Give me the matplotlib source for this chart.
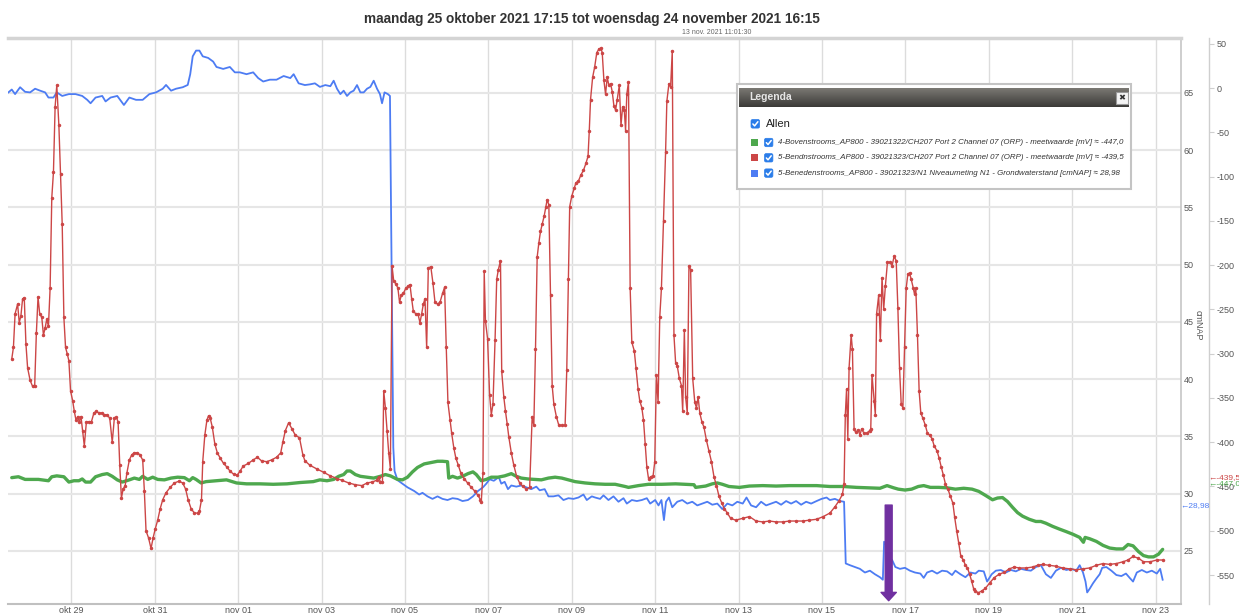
import numpy as np
import matplotlib
matplotlib.use("Agg")
import matplotlib.pyplot as plt
import matplotlib.transforms as mtransforms
from matplotlib.patches import Rectangle, FancyBboxPatch

plt.rcParams['font.family'] = ['Liberation Sans', 'DejaVu Sans']
plt.rcParams['axes.unicode_minus'] = False

# x axis: days after "okt 29" (labels copied as shown on the chart)
tick_days = list(range(0, 27, 2))
tick_labels = ["okt 29", "okt 31", "nov 01", "nov 03", "nov 05", "nov 07", "nov 09",
               "nov 11", "nov 13", "nov 15", "nov 17", "nov 19", "nov 21", "nov 23"]
cm_ticks = list(range(25, 70, 5))
mv_ticks = list(range(-550, 51, 50))

# 5-Benedenstrooms grondwaterstand [cmNAP]
blue_pts = [
    (-1.51, 65.05), (-1.43, 65.3), (-1.35, 64.9), (-1.23, 65.5), (-1.11, 65.1), (-0.99, 65.05),
    (-0.87, 65.37), (-0.75, 65.2), (-0.63, 65.05), (-0.55, 64.6), (-0.43, 64.6), (-0.35, 65.05),
    (-0.22, 64.74), (-0.06, 64.9), (0.10, 64.9), (0.26, 64.74), (0.38, 64.4), (0.46, 64.1),
    (0.58, 64.6), (0.74, 64.74), (0.82, 64.26), (0.94, 64.6), (1.10, 64.74), (1.26, 63.95),
    (1.39, 64.6), (1.55, 64.4), (1.71, 64.4), (1.87, 64.9), (2.03, 65.05), (2.19, 65.37),
    (2.27, 65.7), (2.39, 65.2), (2.51, 65.37), (2.67, 65.5), (2.79, 65.7), (2.85, 66.64),
    (2.91, 68.2), (2.99, 68.7), (3.07, 68.7), (3.15, 68.2), (3.28, 68.06), (3.40, 67.74),
    (3.48, 67.27), (3.64, 67.1), (3.80, 67.27), (3.92, 66.8), (4.04, 66.8), (4.20, 66.64),
    (4.36, 66.8), (4.48, 66.3), (4.60, 66.0), (4.76, 66.16), (4.92, 66.16), (5.09, 66.48),
    (5.25, 66.3), (5.33, 66.64), (5.45, 65.84), (5.60, 65.69), (5.72, 65.75), (5.84, 65.84),
    (5.96, 65.53), (6.09, 65.69), (6.21, 65.59), (6.29, 66.07), (6.37, 65.37), (6.45, 64.9),
    (6.53, 65.2), (6.61, 64.74), (6.69, 65.05), (6.77, 65.2), (6.85, 65.69), (6.93, 65.05),
    (7.01, 65.05), (7.09, 65.37), (7.17, 65.53), (7.25, 66.07), (7.33, 65.37), (7.40, 64.9),
    (7.45, 64.1), (7.51, 65.05), (7.59, 64.9), (7.64, 64.74), (7.72, 34.04), (7.75, 31.98),
    (7.82, 31.19), (7.94, 30.88), (8.06, 30.56), (8.22, 30.24), (8.34, 29.93), (8.42, 30.08),
    (8.54, 29.77), (8.66, 29.55), (8.78, 29.77), (8.90, 29.55), (9.02, 29.45), (9.14, 29.61),
    (9.26, 29.55), (9.38, 29.36), (9.51, 29.45), (9.63, 29.77), (9.75, 30.24), (9.87, 30.56),
    (9.95, 30.88), (10.03, 31.26), (10.13, 31.13), (10.25, 31.45), (10.31, 30.88), (10.39, 31.04),
    (10.47, 30.4), (10.55, 30.72), (10.67, 30.62), (10.79, 30.72), (10.91, 30.56), (11.03, 30.4),
    (11.15, 30.62), (11.23, 30.3), (11.35, 30.4), (11.44, 29.77), (11.56, 29.77), (11.68, 29.86),
    (11.80, 29.45), (11.92, 29.61), (12.04, 29.55), (12.16, 29.67), (12.28, 29.93), (12.36, 29.45),
    (12.48, 29.77), (12.56, 29.67), (12.68, 29.55), (12.76, 29.86), (12.88, 29.45), (13.00, 29.77),
    (13.12, 29.3), (13.24, 29.61), (13.32, 29.14), (13.44, 29.45), (13.56, 29.36), (13.68, 29.45),
    (13.80, 29.61), (13.88, 29.14), (14.00, 29.45), (14.08, 28.98), (14.15, 29.45), (14.21, 27.7),
    (14.26, 29.3), (14.33, 29.67), (14.41, 28.82), (14.53, 29.3), (14.65, 29.45), (14.77, 29.14),
    (14.89, 29.3), (15.01, 28.98), (15.13, 29.14), (15.25, 29.3), (15.37, 29.04), (15.49, 29.14),
    (15.61, 28.66), (15.73, 29.14), (15.85, 28.98), (15.97, 29.3), (16.10, 29.14), (16.19, 29.67),
    (16.30, 28.98), (16.42, 28.82), (16.54, 29.3), (16.66, 28.98), (16.78, 29.14), (16.90, 29.3),
    (17.02, 29.04), (17.14, 29.36), (17.26, 29.14), (17.38, 29.36), (17.50, 29.04), (17.62, 29.3),
    (17.74, 29.14), (17.87, 29.36), (17.99, 29.55), (18.11, 29.67), (18.19, 29.45), (18.31, 29.55),
    (18.43, 29.36), (18.53, 29.3), (18.57, 23.91), (18.67, 23.76), (18.79, 23.6), (18.91, 23.44),
    (19.03, 23.12), (19.15, 23.28), (19.27, 22.97), (19.39, 22.71), (19.46, 22.49), (19.49, 25.81),
    (19.54, 25.5), (19.60, 24.39), (19.68, 24.23), (19.76, 23.6), (19.87, 23.44), (19.99, 23.53),
    (20.11, 23.28), (20.23, 23.12), (20.36, 23.03), (20.44, 22.65), (20.52, 23.12), (20.64, 23.28),
    (20.76, 23.03), (20.88, 23.28), (21.00, 23.22), (21.12, 22.9), (21.20, 23.28), (21.32, 22.97),
    (21.44, 22.71), (21.56, 23.12), (21.68, 23.03), (21.76, 23.28), (21.88, 23.22), (21.96, 22.33),
    (22.07, 22.97), (22.17, 23.28), (22.29, 23.34), (22.41, 23.12), (22.53, 23.34), (22.65, 23.22),
    (22.77, 23.44), (22.89, 23.34), (23.01, 23.28), (23.13, 23.6), (23.25, 23.76), (23.37, 22.97),
    (23.49, 22.65), (23.61, 23.28), (23.73, 23.53), (23.86, 23.34), (23.98, 23.44), (24.10, 23.28),
    (24.18, 23.76), (24.26, 23.12), (24.32, 22.33), (24.36, 21.38), (24.42, 21.7), (24.50, 22.18),
    (24.58, 22.59), (24.66, 22.97), (24.72, 23.53), (24.82, 23.6), (24.94, 23.28), (25.06, 22.9),
    (25.18, 22.81), (25.29, 23.03), (25.38, 22.65), (25.46, 22.33), (25.55, 23.12), (25.67, 23.34),
    (25.79, 23.12), (25.91, 23.28), (26.03, 23.03), (26.11, 23.44), (26.17, 22.49),
]

# 5-Bendnstrooms ORP [mV]
red_pts = [
    (-1.43, -306), (-1.39, -293), (-1.35, -255), (-1.29, -244), (-1.25, -265), (-1.21, -257),
    (-1.17, -238), (-1.13, -237), (-1.09, -289), (-1.05, -316), (-0.99, -330), (-0.93, -337),
    (-0.88, -336), (-0.84, -277), (-0.80, -236), (-0.76, -255), (-0.71, -259), (-0.67, -279),
    (-0.63, -271), (-0.59, -261), (-0.55, -269), (-0.51, -226), (-0.47, -124), (-0.43, -95),
    (-0.39, -21), (-0.35, 3), (-0.30, -42), (-0.26, -97), (-0.22, -154), (-0.18, -259),
    (-0.14, -293), (-0.10, -300), (-0.06, -308), (-0.02, -342), (0.03, -353), (0.07, -365),
    (0.11, -375), (0.15, -371), (0.19, -377), (0.23, -371), (0.27, -387), (0.31, -404),
    (0.36, -377), (0.42, -377), (0.48, -377), (0.54, -367), (0.60, -365), (0.66, -367),
    (0.73, -367), (0.79, -369), (0.86, -369), (0.92, -373), (0.98, -400), (1.03, -373),
    (1.08, -372), (1.12, -377), (1.16, -426), (1.20, -463), (1.24, -453), (1.29, -449),
    (1.33, -435), (1.39, -420), (1.45, -414), (1.51, -412), (1.58, -412), (1.64, -414),
    (1.71, -420), (1.75, -455), (1.79, -500), (1.85, -508), (1.91, -520), (1.96, -508),
    (2.01, -498), (2.07, -488), (2.13, -475), (2.19, -465), (2.27, -457), (2.37, -451),
    (2.47, -446), (2.58, -444), (2.67, -446), (2.74, -453), (2.80, -465), (2.87, -475),
    (2.95, -480), (3.03, -480), (3.07, -478), (3.12, -465), (3.15, -422), (3.20, -392),
    (3.25, -375), (3.29, -370), (3.33, -373), (3.38, -383), (3.44, -402), (3.50, -412),
    (3.57, -418), (3.65, -424), (3.73, -428), (3.81, -433), (3.89, -436), (3.98, -437),
    (4.04, -433), (4.12, -427), (4.24, -424), (4.36, -420), (4.46, -417), (4.56, -421),
    (4.68, -422), (4.80, -420), (4.92, -417), (5.02, -412), (5.07, -400), (5.13, -387),
    (5.21, -378), (5.29, -385), (5.37, -392), (5.47, -395), (5.55, -414), (5.60, -421),
    (5.72, -426), (5.88, -430), (6.05, -434), (6.21, -438), (6.37, -441), (6.49, -443),
    (6.65, -446), (6.81, -448), (6.97, -449), (7.09, -446), (7.21, -445), (7.32, -443),
    (7.37, -439), (7.41, -445), (7.46, -445), (7.49, -342), (7.53, -361), (7.57, -387),
    (7.61, -412), (7.65, -430), (7.69, -201), (7.73, -218), (7.78, -221), (7.83, -226),
    (7.87, -242), (7.91, -234), (7.96, -232), (8.02, -226), (8.07, -224), (8.12, -222),
    (8.16, -238), (8.20, -252), (8.26, -255), (8.31, -255), (8.36, -265), (8.40, -255),
    (8.44, -244), (8.48, -238), (8.52, -293), (8.56, -203), (8.62, -202), (8.67, -220),
    (8.72, -242), (8.78, -244), (8.84, -242), (8.90, -232), (8.95, -225), (8.99, -293),
    (9.03, -355), (9.08, -375), (9.12, -390), (9.17, -406), (9.22, -418), (9.28, -426),
    (9.34, -435), (9.42, -441), (9.50, -446), (9.59, -451), (9.67, -455), (9.75, -460),
    (9.81, -465), (9.83, -467), (9.87, -435), (9.90, -207), (9.93, -263), (9.98, -283),
    (10.03, -347), (10.07, -369), (10.11, -357), (10.16, -285), (10.20, -216), (10.24, -205),
    (10.29, -195), (10.32, -320), (10.37, -349), (10.41, -365), (10.45, -379), (10.49, -394),
    (10.55, -412), (10.61, -426), (10.68, -439), (10.75, -446), (10.83, -450), (10.91, -453),
    (10.99, -451), (11.05, -371), (11.09, -381), (11.13, -295), (11.17, -191), (11.21, -175),
    (11.25, -162), (11.29, -154), (11.34, -144), (11.38, -134), (11.41, -126), (11.45, -132),
    (11.49, -234), (11.53, -336), (11.57, -357), (11.63, -371), (11.69, -381), (11.76, -381),
    (11.84, -381), (11.88, -318), (11.92, -216), (11.95, -134), (12.00, -122), (12.06, -113),
    (12.10, -107), (12.16, -105), (12.22, -98), (12.28, -93), (12.34, -85), (12.39, -77),
    (12.42, -48), (12.45, -13), (12.50, 12), (12.55, 24), (12.60, 40), (12.65, 44),
    (12.70, 45), (12.73, 40), (12.77, 9), (12.81, -7), (12.85, 12), (12.89, 3),
    (12.93, 5), (12.97, -4), (13.01, -20), (13.05, -25), (13.09, -13), (13.14, 3),
    (13.18, -42), (13.22, -21), (13.26, -25), (13.29, -48), (13.32, -7), (13.36, 7),
    (13.40, -226), (13.44, -287), (13.50, -297), (13.54, -316), (13.59, -340), (13.63, -353),
    (13.68, -361), (13.72, -375), (13.76, -402), (13.80, -428), (13.84, -441), (13.89, -439),
    (13.95, -438), (13.99, -422), (14.03, -324), (14.07, -355), (14.11, -259), (14.15, -226),
    (14.20, -150), (14.25, -72), (14.28, -15), (14.33, 5), (14.37, 1), (14.41, 42),
    (14.45, -279), (14.49, -310), (14.53, -314), (14.58, -328), (14.63, -336), (14.66, -365),
    (14.70, -273), (14.73, -349), (14.77, -367), (14.81, -201), (14.85, -205), (14.90, -328),
    (14.95, -355), (14.99, -361), (15.03, -349), (15.07, -367), (15.12, -377), (15.17, -383),
    (15.23, -398), (15.29, -410), (15.35, -422), (15.41, -439), (15.47, -449), (15.53, -461),
    (15.60, -469), (15.66, -475), (15.73, -480), (15.81, -486), (15.93, -488), (16.10, -486),
    (16.26, -484), (16.42, -489), (16.58, -490), (16.74, -489), (16.90, -490), (17.06, -490),
    (17.22, -489), (17.38, -489), (17.54, -489), (17.70, -488), (17.87, -487), (18.03, -484),
    (18.19, -480), (18.31, -473), (18.41, -466), (18.49, -459), (18.53, -447), (18.56, -369),
    (18.59, -340), (18.62, -396), (18.65, -316), (18.70, -279), (18.73, -295), (18.77, -385),
    (18.81, -389), (18.87, -386), (18.91, -392), (18.95, -385), (19.01, -390), (19.07, -390),
    (19.14, -387), (19.17, -385), (19.20, -324), (19.25, -353), (19.28, -369), (19.31, -255),
    (19.36, -234), (19.40, -285), (19.44, -214), (19.48, -250), (19.52, -224), (19.57, -197),
    (19.64, -197), (19.68, -201), (19.73, -190), (19.78, -195), (19.82, -248), (19.86, -316),
    (19.90, -357), (19.94, -361), (19.98, -293), (20.02, -226), (20.06, -210), (20.10, -209),
    (20.14, -216), (20.19, -226), (20.22, -233), (20.25, -226), (20.29, -279), (20.33, -342),
    (20.37, -367), (20.42, -373), (20.48, -381), (20.53, -390), (20.58, -392), (20.64, -396),
    (20.69, -404), (20.76, -410), (20.81, -418), (20.86, -428), (20.91, -437), (20.96, -447),
    (21.02, -453), (21.08, -461), (21.14, -469), (21.18, -484), (21.23, -500), (21.28, -514),
    (21.33, -529), (21.39, -533), (21.44, -539), (21.49, -542), (21.54, -549), (21.59, -557),
    (21.64, -566), (21.68, -568), (21.75, -570), (21.83, -568), (21.92, -565), (22.02, -559),
    (22.13, -553), (22.25, -549), (22.37, -547), (22.49, -543), (22.61, -541), (22.73, -542),
    (22.89, -542), (23.05, -541), (23.17, -539), (23.29, -538), (23.45, -539), (23.61, -540),
    (23.77, -542), (23.94, -543), (24.10, -544), (24.26, -543), (24.42, -542), (24.58, -539),
    (24.74, -537), (24.90, -538), (25.06, -537), (25.22, -535), (25.34, -533), (25.46, -529),
    (25.59, -531), (25.71, -535), (25.87, -535), (26.03, -533), (26.17, -533),
]

# 4-Bovenstrooms ORP [mV]
green_pts = [
    (-1.43, -440), (-1.27, -439), (-1.11, -442), (-0.95, -442), (-0.79, -442), (-0.63, -443),
    (-0.55, -443.5), (-0.47, -439), (-0.35, -438), (-0.18, -439), (-0.06, -445), (0.06, -443.5),
    (0.18, -443.5), (0.26, -441.5), (0.34, -445), (0.46, -445), (0.58, -439), (0.74, -436.5),
    (0.86, -435.5), (0.98, -438.5), (1.10, -442.5), (1.22, -445), (1.39, -442.5), (1.51, -440.5),
    (1.63, -442), (1.71, -438.5), (1.83, -442), (1.95, -439.5), (2.07, -442), (2.23, -442.5),
    (2.39, -440.5), (2.55, -439.5), (2.71, -440), (2.83, -443.5), (2.91, -440), (2.99, -442),
    (3.11, -446), (3.23, -444.5), (3.48, -443.5), (3.72, -442.5), (3.96, -446), (4.20, -447),
    (4.52, -447), (4.84, -447.5), (5.17, -447), (5.49, -445.5), (5.80, -444.5), (5.96, -442.5),
    (6.13, -443.5), (6.29, -442), (6.41, -438.5), (6.53, -436.5), (6.61, -432.5), (6.69, -432.5),
    (6.81, -436.5), (6.93, -438.5), (7.09, -439.5), (7.25, -440.5), (7.41, -438.5), (7.53, -436.5),
    (7.65, -438), (7.82, -442), (7.94, -442.5), (8.06, -439.5), (8.18, -433.5), (8.30, -428.5),
    (8.46, -424.5), (8.62, -423), (8.78, -421.5), (8.90, -421.5), (9.02, -422), (9.05, -440.5),
    (9.14, -438.5), (9.26, -440.5), (9.38, -438.5), (9.51, -435.5), (9.63, -433.5), (9.71, -436.5),
    (9.83, -443.5), (9.95, -442), (10.07, -439.5), (10.23, -439.5), (10.39, -438), (10.55, -435.5),
    (10.67, -438.5), (10.79, -440.5), (10.95, -441.5), (11.11, -442), (11.27, -442.5), (11.44, -440.5),
    (11.60, -439.5), (11.76, -440.5), (11.92, -442.5), (12.08, -444.5), (12.32, -446), (12.56, -447),
    (12.80, -447.5), (13.04, -447.5), (13.28, -450), (13.36, -451), (13.60, -449), (13.84, -447.5),
    (14.16, -447.5), (14.49, -447), (14.73, -447.5), (14.93, -448), (14.97, -451), (15.21, -449.5),
    (15.37, -447), (15.49, -446), (15.61, -447.5), (15.77, -450), (16.02, -451), (16.26, -449.5),
    (16.58, -449), (16.90, -449.5), (17.22, -449), (17.54, -449), (17.87, -449), (18.19, -450),
    (18.51, -450), (18.83, -451), (19.15, -451.5), (19.39, -452), (19.56, -449), (19.72, -451.5),
    (19.83, -453), (19.99, -454), (20.15, -453), (20.31, -450), (20.44, -449), (20.60, -451),
    (20.80, -451), (21.00, -451.5), (21.20, -453), (21.40, -452), (21.60, -453), (21.76, -455.5),
    (21.92, -460), (22.09, -465), (22.21, -463), (22.33, -462.5), (22.45, -467), (22.57, -473.5),
    (22.69, -479.5), (22.81, -483.5), (22.97, -487), (23.13, -489.5), (23.25, -489.5), (23.37, -491.5),
    (23.53, -495), (23.69, -498), (23.86, -501), (24.02, -504), (24.18, -507.5), (24.27, -513),
    (24.31, -507.5), (24.42, -509), (24.58, -512), (24.74, -516.5), (24.90, -519.5), (25.06, -520.5),
    (25.22, -520.5), (25.34, -515.5), (25.46, -517), (25.59, -523.5), (25.71, -528), (25.83, -529.5),
    (25.95, -529.5), (26.07, -526.5), (26.17, -521),
]

# values shown at the hover position
hover_red = -439.5
hover_green = -447.0
hover_blue = 28.98

# purple marker arrow (day, mV from -> to)
arrow_day = 19.6
arrow_from = -471
arrow_to = -579

GREEN = '#4ea84e'
RED = '#cc4646'
BLUE = '#4d7cf3'
PURPLE = '#7030a0'
CHECK = '#2b7de9'

title = "maandag 25 oktober 2021 17:15 tot woensdag 24 november 2021 16:15"
subtitle = "13 nov. 2021 11:01:30"
legend_rows = [
    (GREEN, "4-Bovenstrooms_AP800 - 39021322/CH207 Port 2 Channel 07 (ORP) - meetwaarde [mV] \u2248 -447,0"),
    (RED, "5-Bendnstrooms_AP800 - 39021323/CH207 Port 2 Channel 07 (ORP) - meetwaarde [mV] \u2248 -439,5"),
    (BLUE, "5-Benedenstrooms_AP800 - 39021323/N1 Niveaumeting N1 - Grondwaterstand [cmNAP] \u2248 28,98"),
]

W, H = 1239, 613
fig = plt.figure(figsize=(W / 100, H / 100), dpi=100)
ax = fig.add_axes([8 / W, 1 - 604 / H, (1181 - 8) / W, (604 - 38) / H])
ax2 = ax.twinx()

bx, by = np.array(blue_pts).T
rx, ry = np.array(red_pts).T
gx, gy = np.array(green_pts).T

ax.plot(bx, by, color=BLUE, lw=1.3, zorder=3)
ax2.plot(gx, gy, color=GREEN, lw=2.4, solid_capstyle='round', zorder=3)
ax2.plot(rx, ry, color=RED, lw=1.0, marker='o', ms=1.5, zorder=4)

ax.set_xlim(-1.52, 26.61)
ax.set_ylim(20.37, 69.8)
ax2.set_ylim(-582.7, 56.5)

ax.set_xticks(tick_days)
ax.set_xticklabels(tick_labels)
ax.set_yticks(cm_ticks)
ax2.set_yticks(mv_ticks)
ax.yaxis.tick_right()

ax.grid(axis='y', color='#e6e6e6', lw=1.5)
ax.grid(axis='x', color='#dcdcdc', lw=1.0)
ax.set_axisbelow(True)

ax.tick_params(axis='x', length=0, pad=1.5, labelsize=6.5, labelcolor='#555555')
ax.tick_params(axis='y', length=0, pad=2, labelsize=6.5, labelcolor='#555555')
ax2.tick_params(axis='y', length=3.5, width=0.8, color='#cfcfcf', pad=2,
                labelsize=6.5, labelcolor='#555555')

ax.spines['left'].set_visible(False)
ax.spines['top'].set_color('#d4d4d4')
ax.spines['top'].set_linewidth(2.5)
ax.spines['right'].set_color('#c6c6c6')
ax.spines['right'].set_linewidth(1.2)
ax.spines['bottom'].set_color('#c0c0c0')
ax.spines['bottom'].set_linewidth(1.5)
for s in ['left', 'top', 'bottom']:
    ax2.spines[s].set_visible(False)
ax2.spines['right'].set_position(('outward', 20))
ax2.spines['right'].set_color('#cfcfcf')
ax2.spines['right'].set_linewidth(1.0)

# hover values on the axes
t2 = mtransforms.blended_transform_factory(ax2.transAxes, ax2.transData)
t1 = mtransforms.blended_transform_factory(ax.transAxes, ax.transData)
ax2.text(1.0235, hover_red, '\u2190' + f"{hover_red:.1f}".replace('.', ','), color=RED,
         fontsize=6, va='center', ha='left', transform=t2, clip_on=False)
ax2.text(1.0235, hover_green, '\u2190' + f"{hover_green:.1f}".replace('.', ','), color=GREEN,
         fontsize=6, va='center', ha='left', transform=t2, clip_on=False)
ax2.text(0.999, hover_blue, '\u2190' + f"{hover_blue:.2f}".replace('.', ','), color=BLUE,
         fontsize=6, va='center', ha='left', transform=t1, clip_on=False)

ax2.annotate('', xy=(arrow_day, arrow_to), xytext=(arrow_day, arrow_from),
             arrowprops=dict(facecolor=PURPLE, edgecolor=PURPLE, width=5, headwidth=11,
                             headlength=6, shrink=0), zorder=10)

fig.text(592 / W, 1 - 19 / H, title, ha='center', va='center', fontsize=9.8,
         fontweight='bold', color='#333333')
fig.text(717 / W, 1 - 32 / H, subtitle, ha='center', va='center', fontsize=5, color='#666666')
fig.text(1198 / W, 1 - 325 / H, 'cmNAP', rotation=270, ha='center', va='center',
         fontsize=6.5, color='#555555')
fig.text(1236 / W, 1 - 322 / H, 'mV', rotation=270, ha='left', va='center',
         fontsize=6.5, color='#555555')

# legend window, drawn in pixel coordinates
ov = fig.add_axes([0, 0, 1, 1], zorder=20)
ov.set_xlim(0, W)
ov.set_ylim(H, 0)
ov.axis('off')
ov.patch.set_alpha(0)

ov.add_patch(Rectangle((737, 84), 394, 105, fc='white', ec='#c4c4c4', lw=1.5))
grad = np.linspace(0, 1, 32).reshape(-1, 1)
ov.imshow(grad, cmap=matplotlib.colors.LinearSegmentedColormap.from_list('hdr', ['#7a7873', '#3c3b38']),
          extent=[739, 1129, 107.5, 88.5], aspect='auto', origin='upper', zorder=2)
ov.text(749, 97.5, 'Legenda', color='#e6e6e6', fontsize=7.5, fontweight='bold',
        va='center', ha='left', zorder=3)
ov.add_patch(Rectangle((1116, 91.5), 12, 12.5, fc='#f4f4f4', ec='#9a9a9a', lw=0.8, zorder=3))
ov.text(1122, 97.8, '\u2716', family='DejaVu Sans', fontsize=6, color='#333333',
        ha='center', va='center', zorder=4)


def checkbox(x, y, s):
    ov.add_patch(FancyBboxPatch((x, y), s, s, boxstyle='round,pad=0,rounding_size=1.6',
                                fc=CHECK, ec=CHECK, lw=0.5, zorder=3))
    ov.plot([x + 0.22 * s, x + 0.42 * s, x + 0.80 * s],
            [y + 0.52 * s, y + 0.74 * s, y + 0.26 * s], color='white', lw=1.1,
            solid_capstyle='round', zorder=4)


checkbox(751, 119.5, 8.6)
ov.text(766, 124, 'Allen', fontsize=8, color='#222222', va='center', ha='left', zorder=3)

for i, (col, label) in enumerate(legend_rows):
    yc = 142.5 + i * 15.3
    ov.add_patch(Rectangle((750.5, yc - 3.5), 7, 7, fc=col, ec='none', zorder=3))
    checkbox(764.5, yc - 4.2, 8.4)
    ov.text(778.5, yc, label, fontsize=5.7, style='italic', color='#333333',
            va='center', ha='left', zorder=3)

fig.savefig('out.png', dpi=100)
